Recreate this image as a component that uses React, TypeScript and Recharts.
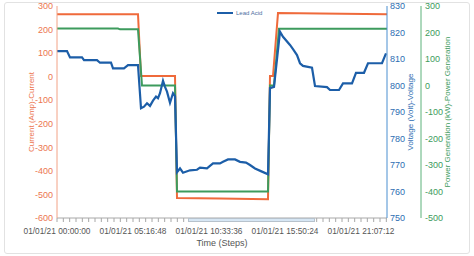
import { Line, LineChart, XAxis, YAxis } from "recharts";

// time in seconds from 01/01/21 00:00:00
const CURRENT_TIME = [0, 20258, 21008, 29512, 30012, 40766, 52771, 53271, 54022, 55272, 65776, 82533];
const CURRENT_AMP = [265, 265, 3, 3, -515, -517, -520, 3, 3, 270, 268, 265];

const POWER_TIME = [0, 15256, 15756, 20258, 21259, 29512, 30012, 52771, 53271, 54272, 55522, 82533];
const POWER_KW = [215, 215, 212, 212, 0, 0, -400, -400, 0, 0, 214, 214];

const VOLTAGE_TIME = [
  0, 2501, 3251, 6253, 6753, 10004, 10754, 13505, 14006, 16757, 17757, 20258, 21008, 21759, 22509, 23259,
  24010, 24760, 25260, 25760, 26511, 27011, 27511, 28261, 29012, 29512, 30012, 30762, 31513, 33263, 35014,
  35764, 37515, 39016, 40766, 41517, 42767, 44518, 45768, 47269, 48269, 49520, 51271, 52771, 53271, 54272,
  55772, 56523, 58273, 59024, 60024, 60774, 61525, 63776, 64526, 67527, 68277, 70528, 71529, 73780, 74780,
  76781, 77781, 81282, 82283,
];
const VOLTAGE_V = [
  813, 813, 810.6, 810.6, 809.6, 809.6, 808.6, 808.6, 806.5, 806.5, 807.7, 807.7, 791.4, 792, 793.3, 792.3,
  794.3, 795.8, 795.2, 797.1, 801.8, 799.5, 797.7, 793.5, 797.1, 796, 767.3, 768.7, 767.1, 768, 768.2,
  769, 768.7, 770.6, 770.6, 771.2, 772.1, 772.1, 771.2, 770.9, 770, 768.7, 767.5, 766.5, 799, 799.5,
  820.3, 818.4, 815.3, 813.7, 811.5, 808.4, 807.4, 806.7, 799.8, 799.4, 798.3, 798.3, 800.8, 800.8, 804.8,
  804.8, 808.4, 808.4, 812.1,
];

const X_END = 82533;
const MAJOR_STEP = 19008;
const MINOR_STEP = 1584;
const CURRENT_TICKS = [-600, -500, -400, -300, -200, -100, 0, 100, 200, 300];
const VOLTAGE_TICKS = [750, 760, 770, 780, 790, 800, 810, 820, 830];
const POWER_TICKS = [-500, -400, -300, -200, -100, 0, 100, 200, 300];

const X_TICKS: number[] = [];
for (let t = 0; t <= X_END; t += MINOR_STEP) X_TICKS.push(t);

const zip = (ts: number[], vs: number[]) => ts.map((t, i) => ({ t, v: vs[i] }));
const currentData = zip(CURRENT_TIME, CURRENT_AMP);
const powerData = zip(POWER_TIME, POWER_KW);
const voltageData = zip(VOLTAGE_TIME, VOLTAGE_V);

const FONT = '"Liberation Sans", Arial, sans-serif';
const ORANGE = "#ef6a3b";
const GREEN = "#3d9b5d";
const BLUE = "#1c5ea8";

const pad = (n: number) => String(n).padStart(2, "0");
function formatTime(t: number) {
  if (t % MAJOR_STEP !== 0) return "";
  const h = Math.floor(t / 3600);
  const m = Math.floor((t % 3600) / 60);
  const s = t % 60;
  return `01/01/21 ${pad(h)}:${pad(m)}:${pad(s)}`;
}

function vLabel(text: string, dx: number, color: string) {
  return (props: any) => {
    const vb = props.viewBox;
    const cx = vb.x + dx;
    const cy = vb.y + vb.height / 2;
    return (
      <text
        x={cx}
        y={cy}
        transform={`rotate(-90 ${cx} ${cy})`}
        textAnchor="middle"
        dominantBaseline="central"
        fill={color}
        fontSize={8}
        fontFamily={FONT}
      >
        {text}
      </text>
    );
  };
}

export default function App() {
  return (
    <div style={{ position: "absolute", left: 0, top: 0, width: 474, height: 256, background: "#fff", fontFamily: FONT }}>
      <div
        style={{
          position: "absolute",
          left: 4,
          top: 2,
          width: 464,
          height: 250,
          border: "1px solid #e2e2e2",
          borderRadius: 3,
        }}
      />
      <LineChart width={474} height={256} margin={{ top: 6, right: 0, bottom: 0, left: 0 }}>
        <XAxis
          dataKey="t"
          type="number"
          domain={[0, X_END]}
          ticks={X_TICKS}
          interval={0}
          tickFormatter={formatTime}
          height={38}
          stroke="#a8a8a8"
          tickSize={4}
          tickMargin={6}
          tick={{ fill: "#555", fontSize: 8.3, fontFamily: FONT }}
          label={(props: any) => (
            <text
              x={props.viewBox.x + props.viewBox.width / 2}
              y={243}
              textAnchor="middle"
              dominantBaseline="central"
              fill="#555"
              fontSize={9}
              fontFamily={FONT}
            >
              Time (Steps)
            </text>
          )}
        />
        <YAxis
          yAxisId="a1"
          orientation="left"
          width={57}
          domain={[-600, 300]}
          ticks={CURRENT_TICKS}
          interval={0}
          stroke="#f2a286"
          tickLine={false}
          tickSize={0}
          tickMargin={4}
          tick={{ fill: "#ec7550", fontSize: 9, fontFamily: FONT }}
          label={vLabel("Current (Amp)-Current", 31, "#ec7550")}
        />
        <YAxis
          yAxisId="a2"
          orientation="right"
          width={34}
          domain={[750, 830]}
          ticks={VOLTAGE_TICKS}
          interval={0}
          stroke="#4a8fd0"
          tickLine={false}
          tickSize={0}
          tickMargin={3}
          tick={{ fill: "#2d6db2", fontSize: 9, fontFamily: FONT }}
          label={vLabel("Voltage (Volt)-Voltage", 23, "#2d6db2")}
        />
        <YAxis
          yAxisId="a3"
          orientation="right"
          width={53}
          domain={[-500, 300]}
          ticks={POWER_TICKS}
          interval={0}
          stroke="#5cb27a"
          tickLine={false}
          tickSize={0}
          tickMargin={4}
          tick={{ fill: "#3d9b5d", fontSize: 9, fontFamily: FONT }}
          label={vLabel("Power Generation (kW)-Power Generation", 26, "#3d9b5d")}
        />
        <Line
          yAxisId="a1"
          data={currentData}
          dataKey="v"
          type="linear"
          stroke={ORANGE}
          strokeWidth={2}
          dot={false}
          isAnimationActive={false}
        />
        <Line
          yAxisId="a3"
          data={powerData}
          dataKey="v"
          type="linear"
          stroke={GREEN}
          strokeWidth={2}
          dot={false}
          isAnimationActive={false}
        />
        <Line
          yAxisId="a2"
          data={voltageData}
          dataKey="v"
          type="linear"
          stroke={BLUE}
          strokeWidth={2.2}
          dot={false}
          isAnimationActive={false}
        />
      </LineChart>
      {/* zoom scrollbar under the x axis */}
      <div
        style={{
          position: "absolute",
          left: 188,
          top: 218,
          width: 125,
          height: 2,
          background: "#d6e6f4",
          border: "1px solid #b7c2cc",
        }}
      />
      {/* legend */}
      <div
        style={{
          position: "absolute",
          left: 217,
          top: 10,
          display: "flex",
          alignItems: "center",
          fontSize: 6,
          color: "#4f6f9f",
        }}
      >
        <span style={{ display: "inline-block", width: 16, height: 2, background: BLUE, marginRight: 3 }} />
        Lead Acid
      </div>
    </div>
  );
}
